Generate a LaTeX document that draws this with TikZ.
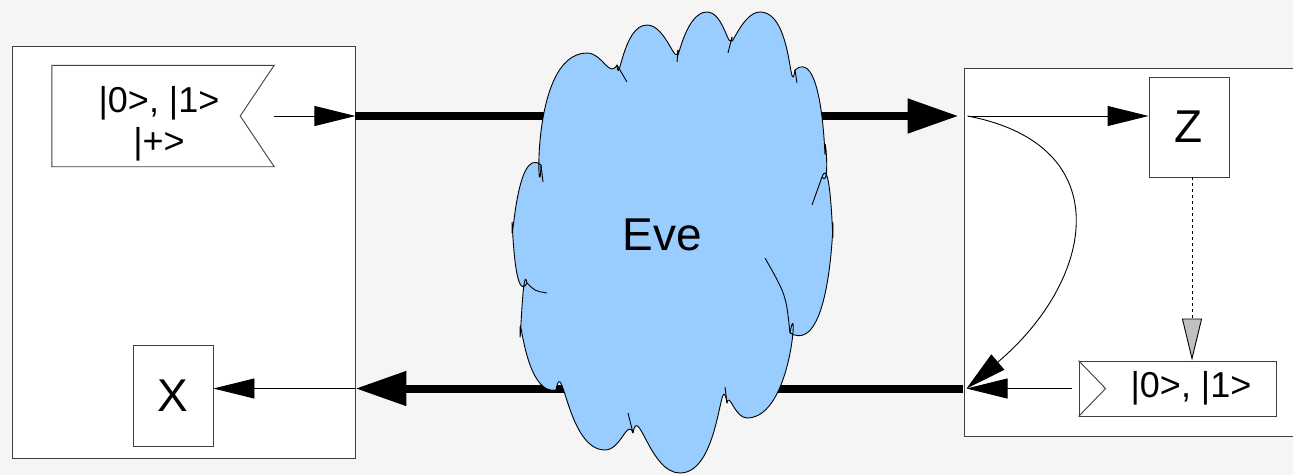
\documentclass[tikz,border=0pt]{standalone}
\usepackage{fontspec}
\setmainfont{Liberation Sans}
\usetikzlibrary{arrows.meta}
\definecolor{paper}{RGB}{245,245,245}
\definecolor{evefill}{RGB}{153,204,255}
\definecolor{tipgray}{RGB}{192,192,192}

\begin{document}
\begin{tikzpicture}[x=1pt,y=-1pt,
  panel/.style={draw=black!75,fill=white,line width=0.9pt,inner sep=0pt},
  boxed/.style={draw=black!75,fill=white,line width=0.9pt,inner sep=0pt},
  wire/.style={draw=black,line width=0.9pt,-{Triangle[length=41pt,width=20pt]}},
  pipe/.style={draw=black,line width=8pt,-{Triangle[length=51pt,width=33pt]}},
  hint/.style={draw=black,line width=0.9pt,dash pattern=on 3pt off 3pt,
    -{Triangle[length=42pt,width=20pt,fill=tipgray,line width=0.9pt]}},
  cloudy/.style={draw=black,line width=0.9pt,line join=round,fill=evefill,looseness=1.25},
  lbl/.style={font=\fontsize{36}{41}\selectfont,align=center},
  big/.style={font=\fontsize{46}{50}\selectfont},
]
\fill[paper] (0,0) rectangle (1293,475);
\useasboundingbox (0,0) rectangle (1293,475);
\clip (0,0) rectangle (1293,475);

% --- sender side ---
\node[panel,minimum width=343pt,minimum height=412pt] (alice) at (183.5,252) {};
\node[inner sep=0pt,minimum width=222pt,minimum height=101pt] (src) at (163,116) {};
\filldraw[draw=black!75,fill=white,line width=0.9pt]
  (src.north east) -- (src.north west) -- (src.south west) -- (src.south east)
  -- ([xshift=-34pt]src.east) -- cycle;
\node[lbl] (srclbl) at (159,124) {|0>, |1>\\|+>};
\node[boxed,minimum width=80pt,minimum height=101pt,big] (X) at (173,395.5) {X};

% --- receiver side ---
\node[panel,minimum width=376pt,minimum height=368pt] (bob) at (1152,252) {};
\node[boxed,minimum width=80pt,minimum height=100pt,big] (Z) at (1189,127) {Z};
\node[boxed,minimum width=197pt,minimum height=55pt] (bsrc) at (1177.5,388.5) {};
\draw[draw=black!75,line width=0.9pt]
  (bsrc.north west) -- ([xshift=27pt]bsrc.west) -- (bsrc.south west);
\node[lbl] (bsrclbl) at (1191,388.5) {|0>, |1>};

% --- junction points on the panel borders ---
\coordinate (aout) at (alice.east |- src.east);
\coordinate (ain) at (alice.east |- bsrc.west);
\coordinate (bin) at ([xshift=-5pt]bob.west |- src.east);
\coordinate (bsplit) at ([xshift=4pt]bob.west |- src.east);
\coordinate (bjoin) at ([xshift=3pt]bob.west |- bsrc.west);
\coordinate (bout) at ([xshift=-1pt]bob.west |- bsrc.west);

% --- quantum channel ---
\draw[pipe] (aout) -- (bin);
\draw[pipe] (bout) -- (ain);

% --- Eve ---
\path[cloudy] (541,165)
  to[out=-92,in=180] (587,53)
  to[out=0,in=240] (617,65)
  to[out=-85,in=180] (647,25)
  to[out=0,in=-95] (678,50)
  to[out=-95,in=180] (707,12)
  to[out=0,in=-100] (732,37)
  to[out=-100,in=180] (760,12)
  to[out=0,in=-100] (795,70)
  to[out=40,in=-90] (825,147)
  to[out=90,in=-55] (822,177)
  to[out=70,in=-90] (833,233)
  to[out=90,in=-30] (790,333)
  to[out=80,in=0] (747,418)
  to[out=180,in=80] (727,403)
  to[out=100,in=0] (680,473)
  to[out=180,in=80] (633,433)
  to[out=110,in=0] (605,450)
  to[out=180,in=80] (556,390)
  to[out=190,in=90] (520,333)
  to[out=-90,in=100] (527,283)
  to[out=240,in=90] (512,227)
  to[out=-90,in=140] (541,165)
  -- cycle;
\draw[black,line width=0.9pt]
  (541,165) -- (543,182)
  (617,65) -- (627,82)
  (678,50) -- (677,62)
  (732,37) -- (728,53)
  (795,70) -- (797,83)
  (822,177) -- (812,205)
  (790,333) .. controls (786,295) .. (765,258)
  (727,403) -- (725,387)
  (633,433) -- (628,413)
  (556,390) -- (563,388)
  (527,283) .. controls (535,291) .. (547,293);
\node[big] (eve) at (662,235) {Eve};

% --- local connectors ---
\draw[wire] (src.east) -- (aout);
\draw[wire] (ain) -- (ain -| X.east);
\draw[wire] (bsplit) -- (bsplit -| Z.west);
\draw[wire] (bsplit) .. controls (1120,145) and (1095,280) .. (bjoin);
\draw[wire] ([xshift=-7pt]bsrc.west) -- (bjoin);
\draw[hint] ([xshift=3pt]Z.south) -- ([xshift=3pt]Z.south |- bsrc.north);
\end{tikzpicture}
\end{document}
